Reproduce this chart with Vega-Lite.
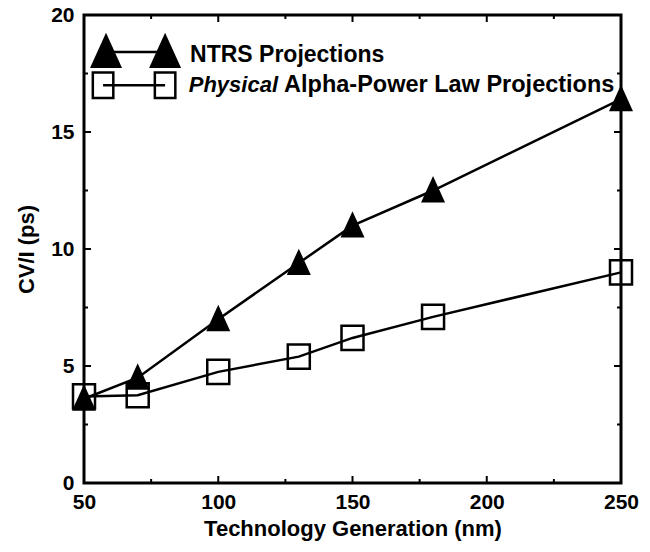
{
  "$schema": "https://vega.github.io/schema/vega-lite/v6.json",
  "width": 537,
  "height": 468,
  "autosize": {"type": "none"},
  "padding": {"left": 84, "top": 15, "right": 29, "bottom": 69},
  "background": "white",
  "resolve": {"axis": {"x": "independent", "y": "independent"}},
  "config": {
    "view": {"stroke": "black", "strokeWidth": 3},
    "font": "Liberation Sans",
    "axis": {
      "domain": false,
      "grid": false,
      "ticks": true,
      "tickOpacity": 0,
      "zindex": 1,
      "labelFlush": false,
      "labelFont": "Liberation Sans",
      "labelFontWeight": "bold",
      "labelFontSize": 21,
      "labelColor": "black",
      "titleFont": "Liberation Sans",
      "titleFontWeight": "bold",
      "titleFontSize": 22,
      "titleColor": "black"
    }
  },
  "datasets": {
    "series": [
      {"gen": 50, "cv": 3.6, "series": "NTRS"},
      {"gen": 70, "cv": 4.5, "series": "NTRS"},
      {"gen": 100, "cv": 7.0, "series": "NTRS"},
      {"gen": 130, "cv": 9.4, "series": "NTRS"},
      {"gen": 150, "cv": 11.0, "series": "NTRS"},
      {"gen": 180, "cv": 12.5, "series": "NTRS"},
      {"gen": 250, "cv": 16.4, "series": "NTRS"},
      {"gen": 50, "cv": 3.7, "series": "Physical"},
      {"gen": 70, "cv": 3.75, "series": "Physical"},
      {"gen": 100, "cv": 4.75, "series": "Physical"},
      {"gen": 130, "cv": 5.4, "series": "Physical"},
      {"gen": 150, "cv": 6.2, "series": "Physical"},
      {"gen": 180, "cv": 7.1, "series": "Physical"},
      {"gen": 250, "cv": 9.0, "series": "Physical"}
    ],
    "xTicks": [
      {"v": 50, "kind": "major"}, {"v": 75, "kind": "minor"}, {"v": 100, "kind": "major"},
      {"v": 125, "kind": "minor"}, {"v": 150, "kind": "major"}, {"v": 175, "kind": "minor"},
      {"v": 200, "kind": "major"}, {"v": 225, "kind": "minor"}, {"v": 250, "kind": "major"}
    ],
    "yTicks": [
      {"v": 0, "kind": "major"}, {"v": 2.5, "kind": "minor"}, {"v": 5, "kind": "major"},
      {"v": 7.5, "kind": "minor"}, {"v": 10, "kind": "major"}, {"v": 12.5, "kind": "minor"},
      {"v": 15, "kind": "major"}, {"v": 17.5, "kind": "minor"}, {"v": 20, "kind": "major"}
    ],
    "legendMarks": [
      {"lx": 58.2, "ly": 18.42, "item": "NTRS"},
      {"lx": 80.2, "ly": 18.42, "item": "NTRS"},
      {"lx": 57.1, "ly": 17.0, "item": "Physical"},
      {"lx": 80.2, "ly": 17.0, "item": "Physical"}
    ],
    "legendText": [
      {"tx": 89.5, "ty": 17.99, "label": "NTRS Projections", "part": "plain"},
      {"tx": 89.0, "ty": 16.71, "label": "Physical", "part": "italic"},
      {"tx": 124.5, "ty": 16.71, "label": "Alpha-Power Law Projections", "part": "wide"}
    ]
  },
  "layer": [
    {
      "data": {"name": "series"},
      "transform": [{"filter": "datum.series === 'Physical'"}],
      "mark": {"type": "line", "color": "black", "strokeWidth": 2.5},
      "encoding": {
        "x": {
          "field": "gen", "type": "quantitative",
          "scale": {"domain": [50, 250], "nice": false, "zero": false},
          "axis": {
            "orient": "bottom",
            "offset": -6,
            "values": [50, 100, 150, 200, 250],
            "tickSize": 6,
            "labelPadding": 8,
            "title": "Technology Generation (nm)",
            "titleY": 58,
            "titleBaseline": "alphabetic"
          }
        },
        "y": {
          "field": "cv", "type": "quantitative",
          "scale": {"domain": [0, 20], "nice": false},
          "axis": {
            "orient": "left",
            "offset": -6,
            "values": [0, 5, 10, 15, 20],
            "tickSize": 6,
            "labelPadding": 10,
            "title": "CV/I (ps)",
            "titleX": -64,
            "titleBaseline": "middle"
          }
        }
      }
    },
    {
      "data": {"name": "series"},
      "transform": [{"filter": "datum.series === 'Physical'"}],
      "mark": {"type": "point", "shape": "M-1,-1.1L1,-1.1L1,1.1L-1,1.1Z", "filled": false, "stroke": "black", "strokeWidth": 2.5, "size": 484, "opacity": 1},
      "encoding": {
        "x": {
          "field": "gen", "type": "quantitative",
          "axis": {"orient": "top", "values": [50, 100, 150, 200, 250], "labels": false, "tickSize": 6, "title": null}
        },
        "y": {
          "field": "cv", "type": "quantitative",
          "axis": {"orient": "right", "values": [0, 5, 10, 15, 20], "labels": false, "tickSize": 6, "title": null}
        }
      }
    },
    {
      "data": {"name": "series"},
      "transform": [{"filter": "datum.series === 'NTRS'"}],
      "mark": {"type": "line", "color": "black", "strokeWidth": 2.5},
      "encoding": {
        "x": {"field": "gen", "type": "quantitative", "axis": null},
        "y": {"field": "cv", "type": "quantitative", "axis": null}
      }
    },
    {
      "data": {"name": "series"},
      "transform": [{"filter": "datum.series === 'NTRS'"}],
      "mark": {"type": "point", "shape": "M0,-1.2L-1,1L1,1Z", "filled": true, "color": "black", "size": 576, "opacity": 1},
      "encoding": {
        "x": {"field": "gen", "type": "quantitative", "axis": null},
        "y": {"field": "cv", "type": "quantitative", "axis": null}
      }
    },
    {
      "data": {"name": "xTicks"},
      "mark": {"type": "tick", "orient": "vertical", "color": "black", "thickness": 2, "opacity": 1, "clip": true},
      "encoding": {
        "x": {"field": "v", "type": "quantitative", "axis": null},
        "y": {"datum": 0, "type": "quantitative", "axis": null},
        "size": {"field": "kind", "type": "nominal", "scale": {"domain": ["major", "minor"], "range": [14, 8]}, "legend": null}
      }
    },
    {
      "data": {"name": "xTicks"},
      "mark": {"type": "tick", "orient": "vertical", "color": "black", "thickness": 2, "opacity": 1, "clip": true},
      "encoding": {
        "x": {"field": "v", "type": "quantitative", "axis": null},
        "y": {"datum": 20, "type": "quantitative", "axis": null},
        "size": {"field": "kind", "type": "nominal", "scale": {"domain": ["major", "minor"], "range": [14, 8]}, "legend": null}
      }
    },
    {
      "data": {"name": "yTicks"},
      "mark": {"type": "tick", "orient": "horizontal", "color": "black", "thickness": 2, "opacity": 1, "clip": true},
      "encoding": {
        "y": {"field": "v", "type": "quantitative", "axis": null},
        "x": {"datum": 50, "type": "quantitative", "axis": null},
        "size": {"field": "kind", "type": "nominal", "scale": {"domain": ["major", "minor"], "range": [14, 8]}, "legend": null}
      }
    },
    {
      "data": {"name": "yTicks"},
      "mark": {"type": "tick", "orient": "horizontal", "color": "black", "thickness": 2, "opacity": 1, "clip": true},
      "encoding": {
        "y": {"field": "v", "type": "quantitative", "axis": null},
        "x": {"datum": 250, "type": "quantitative", "axis": null},
        "size": {"field": "kind", "type": "nominal", "scale": {"domain": ["major", "minor"], "range": [14, 8]}, "legend": null}
      }
    },
    {
      "data": {"name": "legendMarks"},
      "mark": {"type": "line", "color": "black", "strokeWidth": 2.5},
      "encoding": {
        "x": {"field": "lx", "type": "quantitative", "axis": null},
        "y": {"field": "ly", "type": "quantitative", "axis": null},
        "detail": {"field": "item"}
      }
    },
    {
      "data": {"name": "legendMarks"},
      "transform": [{"filter": "datum.item === 'Physical'"}],
      "mark": {"type": "point", "shape": "M-1,-1.25L1,-1.25L1,1.25L-1,1.25Z", "filled": false, "stroke": "black", "strokeWidth": 2.5, "size": 420, "opacity": 1},
      "encoding": {
        "x": {"field": "lx", "type": "quantitative", "axis": null},
        "y": {"field": "ly", "type": "quantitative", "axis": null}
      }
    },
    {
      "data": {"name": "legendMarks"},
      "transform": [{"filter": "datum.item === 'NTRS'"}],
      "mark": {"type": "point", "shape": "M0,-1.2L-1,1L1,1Z", "filled": true, "color": "black", "size": 1024, "opacity": 1},
      "encoding": {
        "x": {"field": "lx", "type": "quantitative", "axis": null},
        "y": {"field": "ly", "type": "quantitative", "axis": null}
      }
    },
    {
      "data": {"name": "legendText"},
      "transform": [{"filter": "datum.part === 'plain'"}],
      "mark": {"type": "text", "align": "left", "baseline": "alphabetic", "font": "Liberation Sans", "fontWeight": "bold", "fontSize": 23, "color": "black"},
      "encoding": {
        "x": {"field": "tx", "type": "quantitative", "axis": null},
        "y": {"field": "ty", "type": "quantitative", "axis": null},
        "text": {"field": "label"}
      }
    },
    {
      "data": {"name": "legendText"},
      "transform": [{"filter": "datum.part === 'wide'"}],
      "mark": {"type": "text", "align": "left", "baseline": "alphabetic", "font": "Liberation Sans", "fontWeight": "bold", "fontSize": 23.5, "color": "black"},
      "encoding": {
        "x": {"field": "tx", "type": "quantitative", "axis": null},
        "y": {"field": "ty", "type": "quantitative", "axis": null},
        "text": {"field": "label"}
      }
    },
    {
      "data": {"name": "legendText"},
      "transform": [{"filter": "datum.part === 'italic'"}],
      "mark": {"type": "text", "align": "left", "baseline": "alphabetic", "font": "Liberation Sans", "fontWeight": "bold", "fontStyle": "italic", "fontSize": 22, "color": "black"},
      "encoding": {
        "x": {"field": "tx", "type": "quantitative", "axis": null},
        "y": {"field": "ty", "type": "quantitative", "axis": null},
        "text": {"field": "label"}
      }
    }
  ]
}
